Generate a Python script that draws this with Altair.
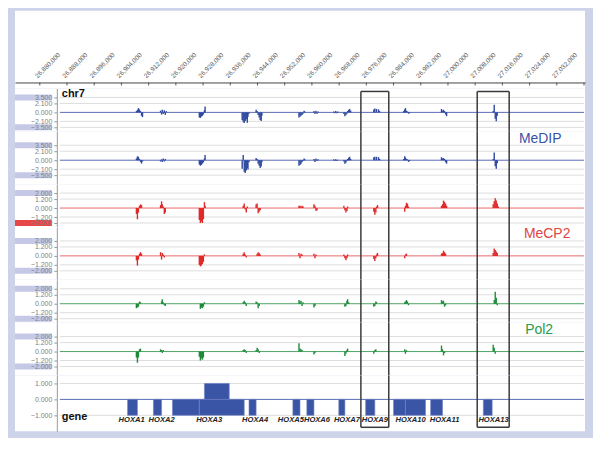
import altair as alt
import pandas as pd

# ---------------- data ----------------
X0, X1 = 26872700, 27040300          # genomic window shown
GRID_X0 = 26885900                   # where the track lines begin
GRID_X1 = 27040000                   # where the track lines end

AXIS_TICKS = [26880000, 26888000, 26896000, 26904000, 26912000, 26920000,
              26928000, 26936000, 26944000, 26952000, 26960000, 26968000,
              26976000, 26984000, 26992000, 27000000, 27008000, 27016000,
              27024000, 27032000, 27040000]

# probe positions (bp), grouped by peak cluster
POS = (
    [26908400, 26908700, 26909000, 26909300, 26909600, 26909900, 26910200] +            # A
    [26915500, 26915800, 26916000, 26916300, 26916600, 26916900, 26917200] +            # B
    [26926900, 26927200, 26927500, 26927800, 26928100, 26928400, 26928600] +            # C
    [26939500, 26939800, 26940100, 26940400, 26940700, 26941000, 26941200, 26941500] +  # D
    [26943600, 26943900, 26944200, 26944500, 26944800, 26945100, 26945300] +            # E
    [26956200, 26956500, 26956800, 26957100, 26957400, 26957700, 26957900] +            # F
    [26960600, 26960900, 26961200, 26961500, 26961800, 26962100] +                      # G
    [26966400, 26966700, 26967000, 26967300, 26967600, 26967900] +                      # H
    [26969400, 26969700, 26970000, 26970300, 26970500, 26970800, 26971100, 26971400] +  # I
    [26978200, 26978500, 26978800, 26979000, 26979300, 26979600, 26979900, 26980200] +  # J
    [26987000, 26987300, 26987500, 26987800, 26988100, 26988400, 26988700, 26989000] +  # K
    [26998100, 26998400, 26998700, 26999000, 26999300, 26999600, 26999900] +            # L
    [27013300, 27013600, 27013900, 27014200, 27014500, 27014800]                        # M
)

MEDIP_1 = (
    [0.3, 0.6, 1.0, 0.7, 0.3, -0.8, -1.1] +
    [0.4, -0.5, 0.6, -0.4, 0.5, -0.6, 0.3] +
    [-1.2, -1.3, -1.0, -0.8, -0.5, 0.5, 1.4] +
    [-1.8, -2.2, -2.5, -2.0, -1.6, -2.4, -1.0, -0.3] +
    [0.6, 0.3, -0.6, -1.2, -1.8, -2.0, -0.8] +
    [-1.2, -1.0, -0.8, -0.6, -0.3, 0.4, 0.2] +
    [0.3, -0.4, 0.4, -0.3, 0.2, 0.0] +
    [0.2, -0.2, 0.3, -0.2, 0.2, 0.0] +
    [-0.4, -0.9, -0.6, -0.3, 0.3, 0.6, 0.8, 0.4] +
    [0.7, 0.9, 0.0, 0.8, 0.0, 0.7, 0.3, 0.0] +
    [0.3, 0.7, 1.0, 0.4, 0.2, -0.3, -0.2, 0.0] +
    [0.8, 0.4, 0.6, 0.3, -0.5, -0.9, 0.0] +
    [0.3, 1.8, -1.5, -2.1, -0.8, 0.0]
)
MEDIP_2 = (
    [0.4, 0.9, 0.8, 0.3, -0.4, -0.8, -0.3] +
    [-0.3, 0.2, -0.4, 0.4, -0.3, 0.3, 0.0] +
    [-1.0, -1.3, -1.1, -0.8, -0.5, 0.4, 1.2] +
    [-2.0, 1.2, -2.7, -3.0, -2.4, -1.8, -2.2, -0.5] +
    [0.5, 0.3, -0.8, -1.3, -1.8, -1.5, -0.4] +
    [-1.3, -1.1, -0.8, -0.5, -0.2, 0.4, 0.2] +
    [0.3, -0.4, 0.4, -0.2, 0.2, 0.0] +
    [0.2, -0.2, 0.2, -0.2, 0.1, 0.0] +
    [-0.3, -0.8, -0.6, -0.2, 0.3, 0.6, 0.8, 0.3] +
    [0.7, 0.8, 0.0, 0.8, 0.0, 0.7, 0.3, 0.0] +
    [0.3, 0.9, 0.6, 0.3, 0.2, -0.4, -0.2, 0.0] +
    [0.7, 0.4, 0.5, 0.3, -0.5, -0.8, 0.0] +
    [0.3, 1.8, -1.4, -2.0, -0.7, 0.0]
)
MECP2_1 = (
    [-0.8, -1.5, -0.6, 0.3, 0.5, 0.4, 0.0] +
    [0.4, 0.9, 0.5, 0.2, -0.8, -0.6, 0.0] +
    [-1.6, -2.0, -1.8, -2.0, -1.5, 0.8, 0.3] +
    [0.0, 0.3, 0.6, -0.2, -0.6, 0.2, 0.0, 0.0] +
    [0.5, 0.6, -0.7, -0.5, -0.3, 0.0, 0.0] +
    [0.3, 0.3, 0.2, 0.3, 0.2, 0.0, 0.0] +
    [0.5, 0.3, -0.4, -0.3, 0.0, 0.0] +
    [0.0, 0.0, 0.0, 0.0, 0.0, 0.0] +
    [0.3, -0.3, -0.6, -0.4, 0.2, 0.0, 0.0, 0.0] +
    [-0.5, -0.9, -0.6, 0.2, 0.4, 0.0, 0.0, 0.0] +
    [0.0, -0.5, 0.3, 0.7, 0.6, 0.2, 0.0, 0.0] +
    [0.3, 0.5, 1.0, 0.8, 0.6, 0.3, 0.0] +
    [0.5, 0.9, 1.3, 1.0, 0.6, 0.2]
)
MECP2_2 = (
    [-0.6, -1.3, -0.5, 0.3, 0.5, 0.3, 0.0] +
    [0.5, -0.5, 0.4, 0.2, -0.2, 0.0, 0.0] +
    [-1.2, -1.4, -1.3, -1.1, -0.8, 0.2, 0.0] +
    [0.0, 0.3, 0.5, 0.2, -0.2, 0.0, 0.0, 0.0] +
    [0.0, 0.3, 0.5, 0.4, 0.2, 0.0, 0.0] +
    [0.4, -0.3, 0.3, 0.2, 0.0, 0.0, 0.0] +
    [0.3, -0.3, 0.2, 0.0, 0.0, 0.0] +
    [0.0, 0.0, 0.0, 0.0, 0.0, 0.0] +
    [0.2, -0.3, -0.6, -0.3, 0.2, 0.0, 0.0, 0.0] +
    [-0.4, -0.7, -0.3, 0.2, 0.4, 0.0, 0.0, 0.0] +
    [0.0, -0.3, 0.2, 0.3, 0.0, 0.0, 0.0, 0.0] +
    [0.3, 0.4, 0.7, 0.5, 0.3, 0.0, 0.0] +
    [0.4, 1.0, 0.8, 0.6, 0.4, 0.0]
)
POL2_1 = (
    [-0.6, -0.5, -0.4, 0.3, 0.2, 0.0, 0.0] +
    [0.0, 0.3, 0.6, 0.2, -0.2, -0.3, 0.0] +
    [0.0, -0.7, -0.5, -0.6, -0.4, 0.2, 0.0] +
    [0.0, 0.2, 0.4, 0.2, -0.3, 0.0, 0.0, 0.0] +
    [0.3, 0.2, -0.6, -0.3, 0.0, 0.0, 0.0] +
    [0.5, 0.3, 0.4, -0.3, 0.2, 0.0, 0.0] +
    [-0.5, -0.3, 0.0, 0.0, 0.0, 0.0] +
    [0.0, 0.0, 0.0, 0.0, 0.0, 0.0] +
    [0.0, -0.4, -0.3, 0.4, 0.6, 0.2, 0.0, 0.0] +
    [-0.4, -0.3, 0.3, 0.2, 0.0, 0.0, 0.0, 0.0] +
    [0.0, 0.2, 0.3, 0.5, 0.3, -0.2, 0.0, 0.0] +
    [0.5, 0.3, 0.4, -0.4, -0.2, 0.0, 0.0] +
    [0.0, 0.5, 1.6, 0.8, -0.2, 0.0]
)
POL2_2 = (
    [-0.8, -1.5, -0.8, 0.3, 0.4, 0.0, 0.0] +
    [0.3, 0.2, -0.2, 0.2, 0.0, 0.0, 0.0] +
    [-0.7, -1.2, -0.9, -1.1, -0.8, 0.0, 0.0] +
    [0.0, 0.2, 0.3, 0.2, -0.2, 0.0, 0.0, 0.0] +
    [0.2, 0.5, 0.3, -0.2, 0.0, 0.0, 0.0] +
    [1.1, 0.4, 0.3, 0.2, 0.0, 0.0, 0.0] +
    [-0.4, -0.2, 0.0, 0.0, 0.0, 0.0] +
    [0.0, 0.0, 0.0, 0.0, 0.0, 0.0] +
    [0.0, -0.6, -0.3, 0.2, 0.4, 0.0, 0.0, 0.0] +
    [-0.3, 0.2, 0.3, 0.0, 0.0, 0.0, 0.0, 0.0] +
    [0.0, 0.3, -0.3, 0.2, 0.0, 0.0, 0.0, 0.0] +
    [0.8, 0.3, -0.5, -0.2, 0.0, 0.0, 0.0] +
    [0.9, 0.5, -0.3, 0.0, 0.0, 0.0]
)

MEDIP_TICKS = [3.5, 2.1, 0.0, -2.1, -3.5]
SIG_TICKS = [2.0, 1.2, 0.0, -1.2, -2.0]
GENE_TICKS = [1.0, 0.0, -1.0]

GENE_START = [26905800, 26913400, 26919000, 26926900, 26928400, 26941500, 26954400,
              26958500, 26967900, 26975800, 26984000, 26987500, 26994900, 27010400]
GENE_END = [26908700, 26915800, 26926900, 26940100, 26935700, 26943600, 26956500,
            26960600, 26969700, 26978500, 26987500, 26993400, 26998400, 27013000]
GENE_LO = [-1, -1, -1, -1, 0, -1, -1, -1, -1, -1, -1, -1, -1, -1]
GENE_HI = [0, 0, 0, 0, 1, 0, 0, 0, 0, 0, 0, 0, 0, 0]

GENE_NAMES = ["HOXA1", "HOXA2", "HOXA3", "HOXA4", "HOXA5", "HOXA6", "HOXA7",
              "HOXA9", "HOXA10", "HOXA11", "HOXA13"]
GENE_LABEL_POS = [26907000, 26915800, 26929800, 26943300, 26953800, 26961500,
                  26970300, 26978500, 26989000, 26999000, 27013400]

BOX_START = [26974400, 27008600]
BOX_END = [26982600, 27018000]

# ---------------- style ----------------
W = 572
FRAME = "#cdd3e8"
LABEL_BOX = "#c6c9e6"
BOX_LINE = "#3a3a3a"
XSCALE = alt.Scale(domain=[X0, X1], nice=False, zero=False)


def xs(field):
    return alt.X(field, type="quantitative", scale=XSCALE, axis=None)


def make_y(dom, ticks):
    axis = alt.Axis(values=ticks, format=".3f", offset=-42, zindex=1, title=None,
                    grid=False, labelFontSize=7, labelColor="#808080",
                    domainColor="#999999", tickColor="#999999", tickSize=3,
                    labelPadding=2, labelOverlap=False, labelFlush=False)

    def ys(field):
        return alt.Y(field, type="quantitative",
                     scale=alt.Scale(domain=dom, nice=False, zero=False), axis=axis)
    return ys


def box_edges(height, top=0, bottom=None):
    bdf = pd.DataFrame({"start": BOX_START, "end": BOX_END})
    y2 = height if bottom is None else bottom
    size = y2 - top
    mid = (top + y2) / 2
    layers = [
        alt.Chart(bdf).mark_tick(color=BOX_LINE, thickness=1.5, size=size, opacity=1,
                                 orient="vertical").encode(x=xs("start"), y=alt.value(mid)),
        alt.Chart(bdf).mark_tick(color=BOX_LINE, thickness=1.5, size=size, opacity=1,
                                 orient="vertical").encode(x=xs("end"), y=alt.value(mid)),
    ]
    if top > 0:
        layers.append(alt.Chart(bdf).mark_rule(color=BOX_LINE, strokeWidth=1.5).encode(
            x=xs("start"), x2="end:Q", y=alt.value(top)))
    if bottom is not None:
        layers.append(alt.Chart(bdf).mark_rule(color=BOX_LINE, strokeWidth=1.5).encode(
            x=xs("start"), x2="end:Q", y=alt.value(bottom)))
    return layers


def track(vals, color, base_color, ticks, dom, height, half, edge_colors,
          box_top=0, name=None, name_color=None, name_x=527, chr_label=False):
    ys = make_y(dom, ticks)
    edge = pd.DataFrame({"v": [ticks[0], ticks[-1]], "c": edge_colors})
    boxes = alt.Chart(edge).transform_calculate(
        top=f"datum.v + {half}", bot=f"datum.v - {half}"
    ).mark_rect().encode(
        x=alt.value(0), x2=alt.value(37), y=ys("top"), y2="bot:Q",
        color=alt.Color("c:N", scale=None))
    gdf = pd.DataFrame({"v": [t for t in ticks if t != 0], "x0": GRID_X0, "x1": GRID_X1})
    grid = alt.Chart(gdf).mark_rule(color="#dddddd", strokeWidth=1).encode(
        x=xs("x0"), x2="x1:Q", y=ys("v"))
    base = alt.Chart(pd.DataFrame({"v": [0.0], "x0": [GRID_X0], "x1": [GRID_X1]})).mark_rule(
        color=base_color, strokeWidth=1).encode(x=xs("x0"), x2="x1:Q", y=ys("v"))
    sdf = pd.DataFrame({"pos": POS, "v": vals, "b": 0.0})
    spikes = alt.Chart(sdf).mark_rule(color=color, strokeWidth=1.4).encode(
        x=xs("pos"), y=ys("v"), y2="b:Q")
    layers = [boxes, grid, base, spikes] + box_edges(height, top=box_top)
    if chr_label:
        layers.append(alt.Chart(pd.DataFrame({"t": ["chr7"]})).mark_text(
            align="left", baseline="middle", fontSize=11, fontWeight="bold",
            color="#111111").encode(text="t:N", x=alt.value(47), y=alt.value(6)))
    if name:
        layers.append(alt.Chart(pd.DataFrame({"t": [name]})).mark_text(
            align="center", baseline="top", fontSize=14, color=name_color).encode(
            text="t:N", x=alt.value(name_x), y=alt.value(0.5)))
    return alt.layer(*layers).properties(width=W, height=height)


# header with genomic coordinate axis
hdr_ticks = alt.Chart(pd.DataFrame({"t": AXIS_TICKS})).mark_rule(
    color="#555555", strokeWidth=1).encode(
    x=alt.X("t:Q", scale=XSCALE,
            axis=alt.Axis(orient="top", offset=-72, values=AXIS_TICKS, format=",d",
                          labelAngle=-45, labelAlign="left", labelBaseline="middle",
                          labelFontSize=6.5, labelColor="#555555", labelPadding=6,
                          labelOffset=-4, ticks=False, domainColor="#444444",
                          title=None, grid=False, labelOverlap=False, labelFlush=False,
                          labelExpr="datum.value >= 27040000 ? '' : datum.label")),
    y=alt.value(72), y2=alt.value(75))
header = hdr_ticks.properties(width=W, height=78)

BLUE, BLUE_BASE = "#2f48a0", "#5a6bb4"
RED, RED_BASE = "#e02a2a", "#e86a6a"
GREEN, GREEN_BASE = "#1f8a3c", "#4fa565"

# track bands: short (43 px, zero 24 px from top) and tall (53 px, zero 29 px from top)
t1 = track(MEDIP_1, BLUE, BLUE_BASE, MEDIP_TICKS, [-4.433, 5.6], 43, 0.7,
           [LABEL_BOX, LABEL_BOX], box_top=3, chr_label=True)
t2 = track(MEDIP_2, BLUE, BLUE_BASE, MEDIP_TICKS, [-5.6, 6.767], 53, 0.7,
           [LABEL_BOX, LABEL_BOX], name="MeDIP", name_color="#3a52a6", name_x=527)
t3 = track(MECP2_1, RED, RED_BASE, SIG_TICKS, [-2.533, 3.2], 43, 0.4,
           [LABEL_BOX, "#e8474a"])
t4 = track(MECP2_2, RED, RED_BASE, SIG_TICKS, [-3.2, 3.867], 53, 0.4,
           [LABEL_BOX, LABEL_BOX], name="MeCP2", name_color="#e04545", name_x=534)
t5 = track(POL2_1, GREEN, GREEN_BASE, SIG_TICKS, [-2.533, 3.2], 43, 0.4,
           [LABEL_BOX, LABEL_BOX])
t6 = track(POL2_2, GREEN, GREEN_BASE, SIG_TICKS, [-3.2, 3.867], 53, 0.4,
           [LABEL_BOX, LABEL_BOX], name="Pol2", name_color="#2a9a48", name_x=526)

# gene track
GENE_H = 56
gy = make_y([-2.0, 1.5], GENE_TICKS)
gene_grid = alt.Chart(pd.DataFrame({"v": [1.0, -1.0], "x0": GRID_X0, "x1": GRID_X1})).mark_rule(
    color="#dddddd").encode(x=xs("x0"), x2="x1:Q", y=gy("v"))
gene_base = alt.Chart(pd.DataFrame({"v": [0.0], "x0": [GRID_X0], "x1": [GRID_X1]})).mark_rule(
    color=BLUE_BASE).encode(x=xs("x0"), x2="x1:Q", y=gy("v"))
gdf = pd.DataFrame({"start": GENE_START, "end": GENE_END, "lo": GENE_LO, "hi": GENE_HI})
gene_rects = alt.Chart(gdf).mark_rect(color="#3b55a6", stroke="#7083c4",
                                      strokeWidth=0.6).encode(
    x=xs("start"), x2="end:Q", y=gy("hi"), y2="lo:Q")
gene_labels = alt.Chart(pd.DataFrame({"name": GENE_NAMES, "pos": GENE_LABEL_POS})).mark_text(
    fontStyle="italic", fontWeight="bold", fontSize=7.6, color="#222222",
    baseline="middle").encode(x=xs("pos"), y=alt.value(45), text="name:N")
gene_word = alt.Chart(pd.DataFrame({"t": ["gene"]})).mark_text(
    align="left", baseline="middle", fontSize=11, fontWeight="bold",
    color="#111111").encode(text="t:N", x=alt.value(47), y=alt.value(42))
gene = alt.layer(gene_grid, gene_base, gene_rects, *box_edges(GENE_H, bottom=52),
                 gene_labels, gene_word).properties(width=W, height=GENE_H)

chart = alt.vconcat(header, t1, t2, t3, t4, t5, t6, gene, spacing=0).properties(
    background=FRAME,
    padding={"left": 7, "top": 2, "right": 8, "bottom": 6},
).configure(font="Liberation Sans").configure_view(fill="white", strokeWidth=0)

chart.save("out.html", embed_options={"renderer": "svg", "actions": False})
